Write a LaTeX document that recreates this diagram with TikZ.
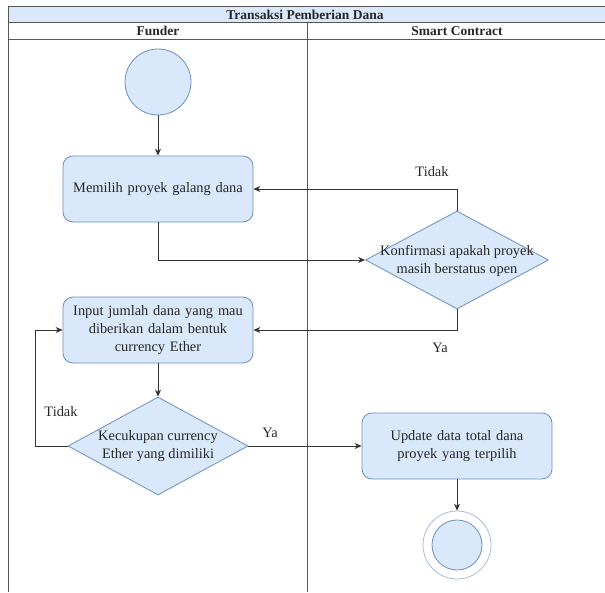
\documentclass[tikz,border=0pt]{standalone}
\usepackage{fontspec}
\setmainfont{Liberation Serif}
\usetikzlibrary{shapes.geometric,arrows.meta}
\definecolor{actfill}{HTML}{DAE8FC}
\definecolor{actline}{HTML}{6C8EBF}
\definecolor{laneline}{HTML}{555555}
\definecolor{txt}{HTML}{262626}
\tikzset{
  activity/.style={rectangle, rounded corners=10pt, draw=actline, fill=actfill, line width=0.8pt,
    minimum width=190pt, minimum height=66pt, text width=184pt, align=center,
    font=\fontsize{14.4}{18}\selectfont, text=txt, inner sep=0pt},
  decision/.style={diamond, draw=actline, fill=actfill, line width=0.8pt, inner sep=0pt},
  dtext/.style={align=center, font=\fontsize{14.4}{18}\selectfont, text=txt, inner sep=0pt},
  flow/.style={draw=black!80, line width=0.8pt, -{Stealth[length=7pt,width=6pt]}},
  guard/.style={font=\fontsize{14.4}{18}\selectfont, text=txt, inner sep=0pt},
  lanehead/.style={font=\bfseries\fontsize{13.5}{16}\selectfont, text=black!85, inner sep=0pt},
}
\begin{document}
\begin{tikzpicture}[x=1pt,y=-1pt]
\useasboundingbox (0,0) rectangle (605,592);
% pool frame and lanes
\fill[actfill] (8,6) rectangle (612,22);
\draw[laneline, line width=0.9pt] (612,6) -- (8,6) -- (8,592);
\draw[laneline, line width=0.9pt] (8,22) -- (612,22);
\draw[laneline, line width=0.9pt] (8,39) -- (612,39);
\draw[laneline, line width=0.9pt] (307,22) -- (307,592);
\node[lanehead] (title) at (305,14.5) {Transaksi Pemberian Dana};
\node[lanehead] (funder) at (158,31) {Funder};
\node[lanehead] (contract) at (457,31) {Smart Contract};

% activities
\node[circle, draw=actline, fill=actfill, line width=0.8pt, minimum size=66pt, inner sep=0pt] (start) at (158,82) {};
\node[activity] (pilih) at (158,189) {Memilih proyek galang dana};
\node[decision, minimum width=183pt, minimum height=98pt] (cek) at (457,260) {};
\node[dtext] (cektext) at (457,261) {Konfirmasi apakah proyek\\masih berstatus open};
\node[activity] (input) at (158,330) {Input jumlah dana yang mau\\diberikan dalam bentuk\\currency Ether};
\node[decision, minimum width=180pt, minimum height=98pt] (cukup) at (158,446) {};
\node[dtext] (cukuptext) at (158,446) {Kecukupan currency\\Ether yang dimiliki};
\node[activity] (update) at (457,446) {Update data total dana\\proyek yang terpilih};
\node[circle, draw=actline!60, fill=white, line width=0.8pt, minimum size=68pt, inner sep=0pt] (end) at (457,545) {};
\node[circle, draw=actline, fill=actfill, line width=0.8pt, minimum size=50pt, inner sep=0pt] (endin) at (457,545) {};

% control flow
\draw[flow] (start) -- (pilih);
\draw[flow] (pilih.south) |- (cek.west);
\draw[flow] (cek.north) |- (pilih.east);
\draw[flow] (cek.south) |- (input.east);
\draw[flow] (input) -- (cukup);
\draw[flow] (cukup.west) -- (35,446) |- (input.west);
\draw[flow] (cukup.east) -- (update.west);
\draw[flow] (update) -- (end);

% guards
\node[guard] (g1) at (432,172) {Tidak};
\node[guard] (g2) at (440,348) {Ya};
\node[guard] (g3) at (61,412) {Tidak};
\node[guard] (g4) at (270,433) {Ya};
\end{tikzpicture}
\end{document}
